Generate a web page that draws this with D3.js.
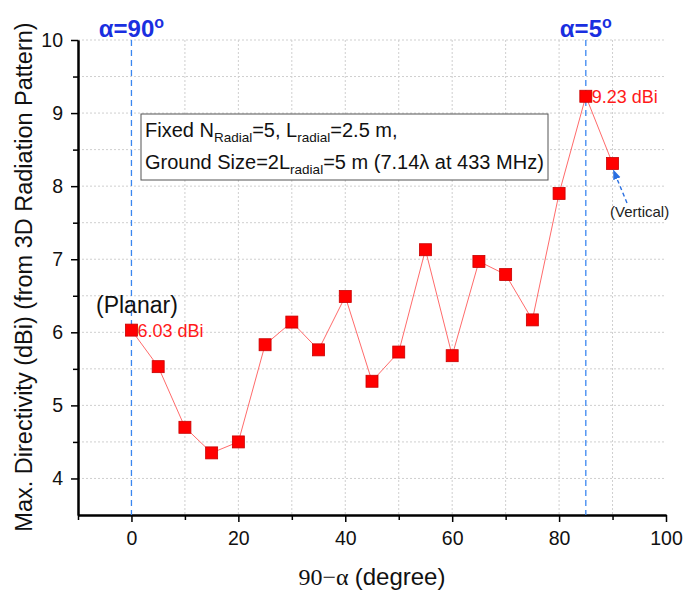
<!DOCTYPE html>
<html>
<head>
<meta charset="utf-8">
<script src="https://cdn.jsdelivr.net/npm/d3@7"></script>
<style>
	body { margin: 0; background: #fff; }
	svg { font-family: Arial, "Liberation Sans", sans-serif; }
</style>
</head>
<body>
<svg id="chart"></svg>
<script>
// data
const angles = [0, 5, 10, 15, 20, 25, 30, 35, 40, 45, 50, 55, 60, 65, 70, 75, 80, 85, 90];
const directivity = [6.03, 5.53, 4.70, 4.35, 4.50, 5.83, 6.14, 5.76, 6.49, 5.33, 5.73, 7.13, 5.68, 6.97, 6.79, 6.17, 7.90, 9.23, 8.31];
const xTicks = [0, 20, 40, 60, 80, 100];
const yTicks = [4, 5, 6, 7, 8, 9, 10];
const markerLines = [0, 85];
const markerLabels = ["α=90", "α=5"];

const data = angles.map((a, i) => ({ x: a, y: directivity[i] }));

const width = 683;
const height = 591;

const svg = d3.select("#chart")
	.attr("width", width)
	.attr("height", height);

const x = d3.scaleLinear().domain([-10, 100]).range([78, 666]);
const y = d3.scaleLinear().domain([3.5, 10]).range([515, 40]);

// dotted grid (major + minor)
const gridX = d3.range(10, 100, 10);
const gridY = d3.range(4, 10.01, 0.5);

svg.append("g")
	.selectAll("line")
	.data(gridX)
	.join("line")
	.attr("x1", (d) => x(d))
	.attr("x2", (d) => x(d))
	.attr("y1", y(10))
	.attr("y2", y(3.5))
	.attr("stroke", "#cfcfcf")
	.attr("stroke-width", 1)
	.attr("stroke-dasharray", "2,2");

svg.append("g")
	.selectAll("line")
	.data(gridY)
	.join("line")
	.attr("x1", x(-10))
	.attr("x2", x(100))
	.attr("y1", (d) => y(d))
	.attr("y2", (d) => y(d))
	.attr("stroke", "#cfcfcf")
	.attr("stroke-width", 1)
	.attr("stroke-dasharray", "2,2");

// axes
svg.append("g")
	.attr("transform", `translate(0,${y(3.5)})`)
	.call(d3.axisBottom(x).tickValues(xTicks).tickSize(7).tickPadding(9).tickSizeOuter(0));

svg.append("g")
	.attr("transform", `translate(0,${y(3.5)})`)
	.call(d3.axisBottom(x).tickValues(d3.range(-10, 100, 20)).tickSize(5).tickFormat("").tickSizeOuter(0));

svg.append("g")
	.attr("transform", `translate(${x(-10)},0)`)
	.call(d3.axisLeft(y).tickValues(yTicks).tickFormat(d3.format("d")).tickSize(7).tickPadding(8).tickSizeOuter(0));

svg.append("g")
	.attr("transform", `translate(${x(-10)},0)`)
	.call(d3.axisLeft(y).tickValues(d3.range(4.5, 10, 1)).tickSize(5).tickFormat("").tickSizeOuter(0));

svg.selectAll(".domain").attr("stroke", "#000").attr("stroke-width", 2);
svg.selectAll(".tick line").attr("stroke", "#000").attr("stroke-width", 1.5);
svg.selectAll(".tick text")
	.attr("fill", "#111")
	.style("font-size", "19.5px");

// blue dashed reference lines
svg.append("g")
	.selectAll("line")
	.data(markerLines)
	.join("line")
	.attr("x1", (d) => x(d))
	.attr("x2", (d) => x(d))
	.attr("y1", y(10))
	.attr("y2", y(3.5))
	.attr("stroke", "#3a86f0")
	.attr("stroke-width", 1.3)
	.attr("stroke-dasharray", "6,4");

const alphaText = svg.append("g")
	.selectAll("text")
	.data(markerLines)
	.join("text")
	.attr("x", (d) => x(d))
	.attr("y", 37)
	.attr("text-anchor", "middle")
	.attr("fill", "#1a2fe0")
	.style("font-size", "24px")
	.style("font-weight", "bold");

alphaText.append("tspan").text((d, i) => markerLabels[i]);
alphaText.append("tspan")
	.attr("dy", -9)
	.style("font-size", "16px")
	.text("o");

// line + markers
const line = d3.line()
	.x((d) => x(d.x))
	.y((d) => y(d.y));

svg.append("path")
	.datum(data)
	.attr("d", line)
	.attr("fill", "none")
	.attr("stroke", "#ff6b6b")
	.attr("stroke-width", 1);

svg.append("g")
	.selectAll("rect")
	.data(data)
	.join("rect")
	.attr("x", (d) => x(d.x) - 6)
	.attr("y", (d) => y(d.y) - 6)
	.attr("width", 12)
	.attr("height", 12)
	.attr("fill", "#ff0000")
	.attr("stroke", "#c80000")
	.attr("stroke-width", 0.8);

// value labels
svg.append("text")
	.attr("x", x(0) + 6)
	.attr("y", y(6.03) + 7)
	.attr("fill", "#ff1a1a")
	.style("font-size", "18px")
	.text("6.03 dBi");

svg.append("text")
	.attr("x", x(85) + 6)
	.attr("y", y(9.23) + 7)
	.attr("fill", "#ff1a1a")
	.style("font-size", "18px")
	.text("9.23 dBi");

svg.append("text")
	.attr("x", 96)
	.attr("y", 313)
	.attr("fill", "#111")
	.style("font-size", "23px")
	.text("(Planar)");

svg.append("text")
	.attr("x", 610)
	.attr("y", 217)
	.attr("fill", "#222")
	.style("font-size", "15px")
	.text("(Vertical)");

// dashed arrow to the vertical point
svg.append("defs").append("marker")
	.attr("id", "arrow")
	.attr("viewBox", "0 0 10 10")
	.attr("refX", 9)
	.attr("refY", 5)
	.attr("markerWidth", 7)
	.attr("markerHeight", 7)
	.attr("orient", "auto")
	.append("path")
	.attr("d", "M0,1 L10,5 L0,9 z")
	.attr("fill", "#2a6fe0");

svg.append("line")
	.attr("x1", 627)
	.attr("y1", 203)
	.attr("x2", x(90) + 1)
	.attr("y2", y(8.31) + 7)
	.attr("stroke", "#2a6fe0")
	.attr("stroke-width", 1.4)
	.attr("stroke-dasharray", "4,3")
	.attr("marker-end", "url(#arrow)");

// annotation box
svg.append("rect")
	.attr("x", 141)
	.attr("y", 114)
	.attr("width", 407)
	.attr("height", 66)
	.attr("fill", "#fff")
	.attr("stroke", "#555")
	.attr("stroke-width", 1);

const note1 = svg.append("text")
	.attr("x", 145)
	.attr("y", 137)
	.attr("fill", "#111")
	.style("font-size", "20px");
note1.append("tspan").text("Fixed N");
note1.append("tspan").attr("dy", 5).style("font-size", "13.5px").text("Radial");
note1.append("tspan").attr("dy", -5).text("=5, L");
note1.append("tspan").attr("dy", 5).style("font-size", "13.5px").text("radial");
note1.append("tspan").attr("dy", -5).text("=2.5 m,");

const note2 = svg.append("text")
	.attr("x", 145)
	.attr("y", 169)
	.attr("fill", "#111")
	.style("font-size", "20px");
note2.append("tspan").text("Ground Size=2L");
note2.append("tspan").attr("dy", 5).style("font-size", "13.5px").text("radial");
note2.append("tspan").attr("dy", -5).text("=5 m (7.14λ at 433 MHz)");

// axis titles
svg.append("text")
	.attr("transform", "translate(32,277) rotate(-90)")
	.attr("text-anchor", "middle")
	.attr("fill", "#111")
	.style("font-size", "23.5px")
	.text("Max. Directivity (dBi) (from 3D Radiation Pattern)");

const xTitle = svg.append("text")
	.attr("x", x(45))
	.attr("y", 585)
	.attr("text-anchor", "middle")
	.attr("fill", "#111")
	.style("font-size", "24px");
xTitle.append("tspan").style("font-family", "'Liberation Serif', 'Times New Roman', serif").text("90−α ");
xTitle.append("tspan").text("(degree)");
</script>
</body>
</html>
